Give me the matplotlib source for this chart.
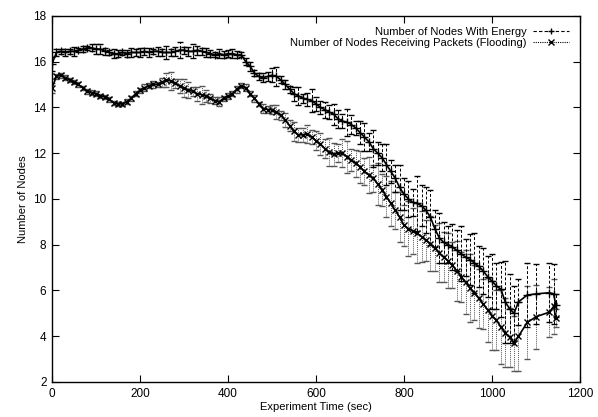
import matplotlib
matplotlib.use("Agg")
import matplotlib.pyplot as plt
from matplotlib.lines import Line2D

plt.rcParams['font.family'] = ['Liberation Sans', 'DejaVu Sans']

time_s = list(range(0, 1060, 10)) + [1060, 1080, 1100, 1130, 1140, 1145]

energy = [
    15.9, 16.4, 16.45, 16.4, 16.45, 16.45, 16.5, 16.55, 16.6, 16.6,
    16.55, 16.55, 16.45, 16.4, 16.35, 16.35, 16.4, 16.35, 16.4, 16.4,
    16.4, 16.45, 16.4, 16.45, 16.45, 16.4, 16.4, 16.4, 16.45, 16.5,
    16.5, 16.45, 16.45, 16.5, 16.45, 16.4, 16.35, 16.3, 16.35, 16.3,
    16.35, 16.35, 16.3, 16.3, 16.0, 15.8, 15.5, 15.35, 15.3, 15.35,
    15.4, 15.35, 15.2, 15.0, 14.8, 14.6, 14.5, 14.4, 14.35, 14.3,
    14.15, 14.0, 13.9, 13.8, 13.7, 13.5, 13.4, 13.35, 13.25, 13.1,
    12.9, 12.7, 12.5, 12.2, 12.0, 11.8, 11.5, 11.2, 10.9, 10.5,
    10.2, 10.0, 9.85, 9.8, 9.7, 9.5, 9.2, 8.7, 8.3, 8.1,
    8.0, 7.9, 7.75, 7.6, 7.45, 7.35, 7.2, 7.05, 6.85, 6.6,
    6.4, 6.2, 6.05, 5.5, 5.2, 5.0,
    5.5, 5.8, 5.85, 5.9, 5.85, 5.35,
]

energy_err = [
    0.3, 0.15, 0.1, 0.15, 0.1, 0.2, 0.1, 0.15, 0.1, 0.15,
    0.2, 0.2, 0.15, 0.1, 0.2, 0.15, 0.1, 0.15, 0.2, 0.15,
    0.2, 0.15, 0.2, 0.1, 0.2, 0.15, 0.3, 0.15, 0.2, 0.35,
    0.15, 0.2, 0.3, 0.2, 0.15, 0.2, 0.15, 0.1, 0.2, 0.15,
    0.15, 0.2, 0.15, 0.1, 0.15, 0.2, 0.15, 0.15, 0.2, 0.2,
    0.3, 0.4, 0.15, 0.2, 0.15, 0.3, 0.4, 0.2, 0.3, 0.5,
    0.3, 0.3, 0.35, 0.3, 0.45, 0.4, 0.3, 0.6, 0.4, 0.3,
    0.5, 0.6, 0.4, 0.8, 0.5, 0.6, 0.9, 0.5, 0.6, 1.0,
    0.7, 0.8, 0.6, 1.2, 0.9, 1.0, 1.2, 0.8, 1.1, 0.9,
    0.8, 1.0, 0.9, 1.2, 0.8, 1.1, 1.3, 0.9, 1.0, 0.9,
    1.2, 1.0, 1.2, 1.8, 1.5, 1.2,
    1.0, 1.4, 1.3, 1.3, 1.3, 0.5,
]

flooding = [
    14.85, 15.35, 15.4, 15.3, 15.2, 15.1, 15.0, 14.85, 14.7, 14.65,
    14.6, 14.5, 14.45, 14.35, 14.2, 14.15, 14.15, 14.25, 14.4, 14.6,
    14.75, 14.85, 14.95, 15.0, 15.0, 15.1, 15.2, 15.15, 15.05, 14.95,
    14.85, 14.75, 14.7, 14.6, 14.55, 14.5, 14.4, 14.3, 14.25, 14.4,
    14.5, 14.6, 14.8, 14.95, 14.85, 14.6, 14.4, 14.15, 13.95, 13.9,
    13.9, 13.8, 13.65, 13.45, 13.2, 12.95, 12.8, 12.8, 12.85, 12.7,
    12.55, 12.4, 12.2, 12.05, 11.95, 12.0, 12.0, 11.85, 11.7, 11.55,
    11.4, 11.2, 11.05, 10.9, 10.65, 10.4, 10.1, 9.8, 9.5, 9.2,
    8.85, 8.7, 8.6, 8.5, 8.35, 8.2, 8.05, 7.85, 7.65, 7.45,
    7.3, 7.1, 6.85, 6.6, 6.35, 6.1, 5.9, 5.65, 5.4, 5.15,
    4.9, 4.7, 4.4, 4.15, 3.95, 3.7,
    4.0, 4.6, 4.85, 5.05, 5.3, 4.8,
]

flooding_err = [
    0.2, 0.1, 0.1, 0.1, 0.1, 0.1, 0.1, 0.1, 0.1, 0.1,
    0.1, 0.1, 0.1, 0.1, 0.1, 0.1, 0.1, 0.1, 0.1, 0.1,
    0.1, 0.15, 0.1, 0.15, 0.1, 0.2, 0.3, 0.4, 0.2, 0.3,
    0.4, 0.35, 0.2, 0.3, 0.4, 0.25, 0.2, 0.15, 0.2, 0.1,
    0.15, 0.1, 0.15, 0.1, 0.15, 0.1, 0.15, 0.1, 0.2, 0.15,
    0.2, 0.3, 0.2, 0.3, 0.25, 0.4, 0.3, 0.3, 0.4, 0.3,
    0.4, 0.5, 0.4, 0.6, 0.5, 0.4, 0.6, 0.7, 0.5, 0.6,
    0.7, 0.6, 0.8, 0.6, 0.9, 0.7, 0.9, 1.0, 0.8, 1.1,
    0.9, 1.2, 1.0, 1.3, 1.1, 0.9, 1.2, 1.0, 1.3, 1.1,
    1.2, 1.0, 1.3, 1.1, 1.4, 1.5, 1.2, 1.3, 1.1, 1.4,
    1.5, 1.3, 1.6, 1.5, 1.3, 1.2,
    1.5, 1.6, 1.4, 1.1, 1.2, 0.4,
]

fig = plt.figure(figsize=(5.98, 4.17), dpi=100)
ax = fig.add_axes([0.087, 0.084, 0.883, 0.878])

eb1 = ax.errorbar(time_s, energy, yerr=energy_err, color='black', lw=1.2,
                  marker='+', ms=6, mew=1.0, elinewidth=0.7, capsize=2,
                  capthick=0.7, zorder=3)
eb1[2][0].set_linestyle((0, (3, 2)))

eb2 = ax.errorbar(time_s, flooding, yerr=flooding_err, color='black', lw=1.2,
                  marker='x', ms=5, mew=1.0, elinewidth=0.7, capsize=2,
                  capthick=0.7, ecolor='#555555', zorder=2)
eb2[2][0].set_linestyle((0, (1, 1)))

ax.set_xlim(0, 1200)
ax.set_ylim(2, 18)
ax.set_xticks(range(0, 1201, 200))
ax.set_yticks(range(2, 19, 2))
ax.tick_params(direction='in', length=5, width=0.8, top=True, right=True,
               labelsize=8.5, pad=4, colors='black')
for s in ax.spines.values():
    s.set_linewidth(1.0)
ax.set_xlabel('Experiment Time (sec)', fontsize=8, labelpad=2)
ax.set_ylabel('Number of Nodes', fontsize=8, labelpad=4)

h1 = Line2D([], [], color='black', lw=0.8, ls=(0, (3, 2)), marker='+', ms=5)
h2 = Line2D([], [], color='black', lw=0.8, ls=(0, (1, 1)), marker='x', ms=4)
leg = ax.legend([h1, h2], ['Number of Nodes With Energy',
                           'Number of Nodes Receiving Packets (Flooding)'],
                loc='upper right', frameon=False, markerfirst=False,
                fontsize=8, handlelength=3.2, handletextpad=0.6,
                labelspacing=0.1, borderaxespad=0.6)
for t in leg.get_texts():
    t.set_ha('right')

fig.savefig('out.png', dpi=100)
